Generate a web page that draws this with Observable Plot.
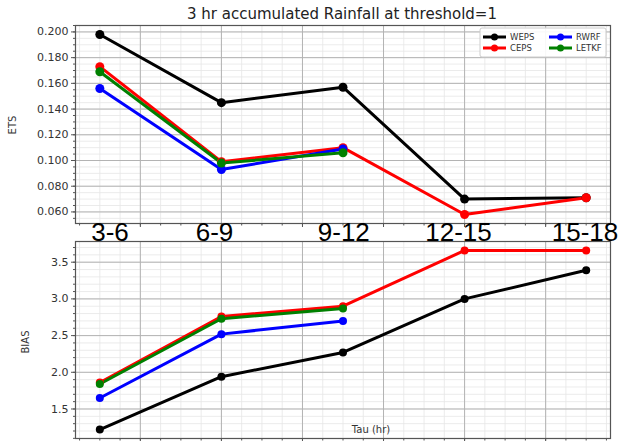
<!DOCTYPE html>
<html>
<head>
<meta charset="utf-8">
<script src="https://cdn.jsdelivr.net/npm/d3@7"></script>
<script src="https://cdn.jsdelivr.net/npm/@observablehq/plot@0.6"></script>
<style>
  body { margin: 0; background: #fff; }
  #chart { position: relative; width: 618px; height: 441px; overflow: hidden; font-family: "DejaVu Sans", sans-serif; }
  #chart > * { position: absolute; left: 0; }
</style>
</head>
<body>
<div id="chart"></div>
<script>
// Forecast periods (hours) and their starting lead time on the x axis
const periods = ["3-6", "6-9", "9-12", "12-15", "15-18"];
const tauStart = [3, 6, 9, 12, 15];

// Models and their colours
const models = ["WEPS", "CEPS", "RWRF", "LETKF"];
const modelColors = ["#000000", "#ff0000", "#0000ff", "#008000"];

// Equitable threat score per period
const etsWEPS  = [0.198, 0.145, 0.157, 0.070, 0.071];
const etsCEPS  = [0.173, 0.099, 0.110, 0.058, 0.071];
const etsRWRF  = [0.156, 0.093, 0.109];
const etsLETKF = [0.169, 0.098, 0.106];

// Frequency bias per period
const biasWEPS  = [1.22, 1.94, 2.27, 3.00, 3.39];
const biasCEPS  = [1.86, 2.76, 2.90, 3.66, 3.66];
const biasRWRF  = [1.65, 2.52, 2.70];
const biasLETKF = [1.84, 2.73, 2.87];

// Axis ticks
const xMajor = [4, 6, 8, 10, 12, 14];
const etsTicks = [0.06, 0.08, 0.10, 0.12, 0.14, 0.16, 0.18, 0.20];
const biasTicks = [1.5, 2.0, 2.5, 3.0, 3.5];

const toRows = (series) => series.flatMap((vals, k) =>
  vals.map((v, i) => ({model: models[k], tau: tauStart[i], value: v})));
const etsRows = toRows([etsWEPS, etsCEPS, etsRWRF, etsLETKF]);
const biasRows = toRows([biasWEPS, biasCEPS, biasRWRF, biasLETKF]);

// 5% padding on each side of the data extent
const padded = (vals) => {
  const [lo, hi] = d3.extent(vals);
  const p = (hi - lo) * 0.05;
  return [lo - p, hi + p];
};
const xDomain = padded(tauStart);
const etsDomain = padded(etsRows.map(d => d.value));
const biasDomain = padded(biasRows.map(d => d.value));

const minorSteps = (domain, step) =>
  d3.range(Math.ceil(domain[0] / step), Math.floor(domain[1] / step) + 1).map(k => +(k * step).toFixed(6));
const xMinor = minorSteps(xDomain, 0.5);
const etsMinor = minorSteps(etsDomain, 0.005);
const biasMinor = minorSteps(biasDomain, 0.1);

// The large period labels sit slightly off their lead times (in hours)
const periodLabelShift = [0.25, -0.17, 0.02, -0.15, -0.03];

const GRID_MAJOR = "#b3b3b3";
const GRID_MINOR = "#e6e6e6";
const FRAME = "#555555";
const TICK_TEXT = "#333333";

function panel(rows, yDomain, yTicks, yMinor, yFormat, opts) {
  return Plot.plot({
    width: 618,
    height: opts.height,
    marginLeft: 75,
    marginRight: 8,
    marginTop: opts.marginTop,
    marginBottom: opts.marginBottom,
    style: {background: "transparent", overflow: "visible", fontFamily: "DejaVu Sans, sans-serif"},
    x: {domain: xDomain},
    y: {domain: yDomain},
    color: {domain: models, range: modelColors},
    marks: [
      Plot.gridX(xMinor, {stroke: GRID_MINOR, strokeOpacity: 1, strokeWidth: 0.8}),
      Plot.gridY(yMinor, {stroke: GRID_MINOR, strokeOpacity: 1, strokeWidth: 0.8}),
      Plot.gridX(xMajor, {stroke: GRID_MAJOR, strokeOpacity: 1, strokeWidth: 1}),
      Plot.gridY(yTicks, {stroke: GRID_MAJOR, strokeOpacity: 1, strokeWidth: 1}),
      Plot.line(rows, {x: "tau", y: "value", z: "model", stroke: "model", strokeWidth: 3}),
      Plot.dot(rows, {x: "tau", y: "value", fill: "model", r: opts.r}),
      Plot.frame({stroke: FRAME, strokeWidth: 1.2}),
      Plot.axisY(yTicks, {tickSize: 4, tickPadding: 3, fontSize: 11, tickFormat: yFormat,
        label: null, stroke: FRAME, fill: TICK_TEXT}),
      Plot.axisY(yMinor, {tickSize: 2, fill: "none", stroke: FRAME, label: null}),
      Plot.axisX(xMinor, {tickSize: 2.5, fill: "none", stroke: FRAME, label: null}),
      Plot.axisX(xMajor, {tickSize: 4, fill: "none", stroke: FRAME, label: null}),
      ...(opts.periodLabels ? [
        Plot.text(periods, {
          x: (d, i) => tauStart[i] + periodLabelShift[i],
          text: d => d,
          frameAnchor: "bottom", lineAnchor: "middle", dy: 9,
          fontSize: 26, fontFamily: "Liberation Sans, Arial, sans-serif", fill: "#000"
        })
      ] : [])
    ]
  });
}

const chart = document.getElementById("chart");

const biasPlot = panel(biasRows, biasDomain, biasTicks, biasMinor, d3.format(".1f"),
  {height: 205, marginTop: 5, marginBottom: 3, r: 4});
biasPlot.style.top = "236px";
chart.appendChild(biasPlot);

const etsPlot = panel(etsRows, etsDomain, etsTicks, etsMinor, d3.format(".3f"),
  {height: 245, marginTop: 25, marginBottom: 22, r: 4.5, periodLabels: true});
etsPlot.style.top = "0px";
chart.appendChild(etsPlot);

// Title, axis labels and legend
const svg = d3.create("svg")
  .attr("width", 618).attr("height", 441)
  .style("top", "0px")
  .style("overflow", "visible")
  .attr("font-family", "DejaVu Sans, sans-serif");

svg.append("text")
  .attr("x", 342).attr("y", 19)
  .attr("text-anchor", "middle")
  .attr("font-size", 15).attr("fill", "#222")
  .text("3 hr accumulated Rainfall at threshold=1");

svg.append("text")
  .attr("transform", "translate(12,125) rotate(-90)")
  .attr("text-anchor", "middle").attr("dy", "0.35em")
  .attr("font-size", 10).attr("fill", "#333")
  .text("ETS");

svg.append("text")
  .attr("transform", "translate(25,342) rotate(-90)")
  .attr("text-anchor", "middle").attr("dy", "0.35em")
  .attr("font-size", 10).attr("fill", "#333")
  .text("BIAS");

svg.append("text")
  .attr("x", 371).attr("y", 429)
  .attr("text-anchor", "middle").attr("dy", "0.35em")
  .attr("font-size", 10).attr("fill", "#333")
  .text("Tau (hr)");

const legend = svg.append("g").attr("transform", "translate(480,28)");
legend.append("rect")
  .attr("width", 126).attr("height", 29)
  .attr("fill", "#fff").attr("fill-opacity", 0.9)
  .attr("stroke", "#cccccc").attr("rx", 2);
models.forEach((m, i) => {
  const col = Math.floor(i / 2), row = i % 2;
  const g = legend.append("g").attr("transform", `translate(${3 + col * 66},${9 + row * 11})`);
  g.append("line").attr("x1", 0).attr("x2", 23)
    .attr("stroke", modelColors[i]).attr("stroke-width", 3);
  g.append("circle").attr("cx", 11.5).attr("r", 3.5).attr("fill", modelColors[i]);
  g.append("text").attr("x", 27).attr("dy", "0.35em")
    .attr("font-size", 8.5).attr("fill", "#333").text(m);
});

chart.appendChild(svg.node());
</script>
</body>
</html>
